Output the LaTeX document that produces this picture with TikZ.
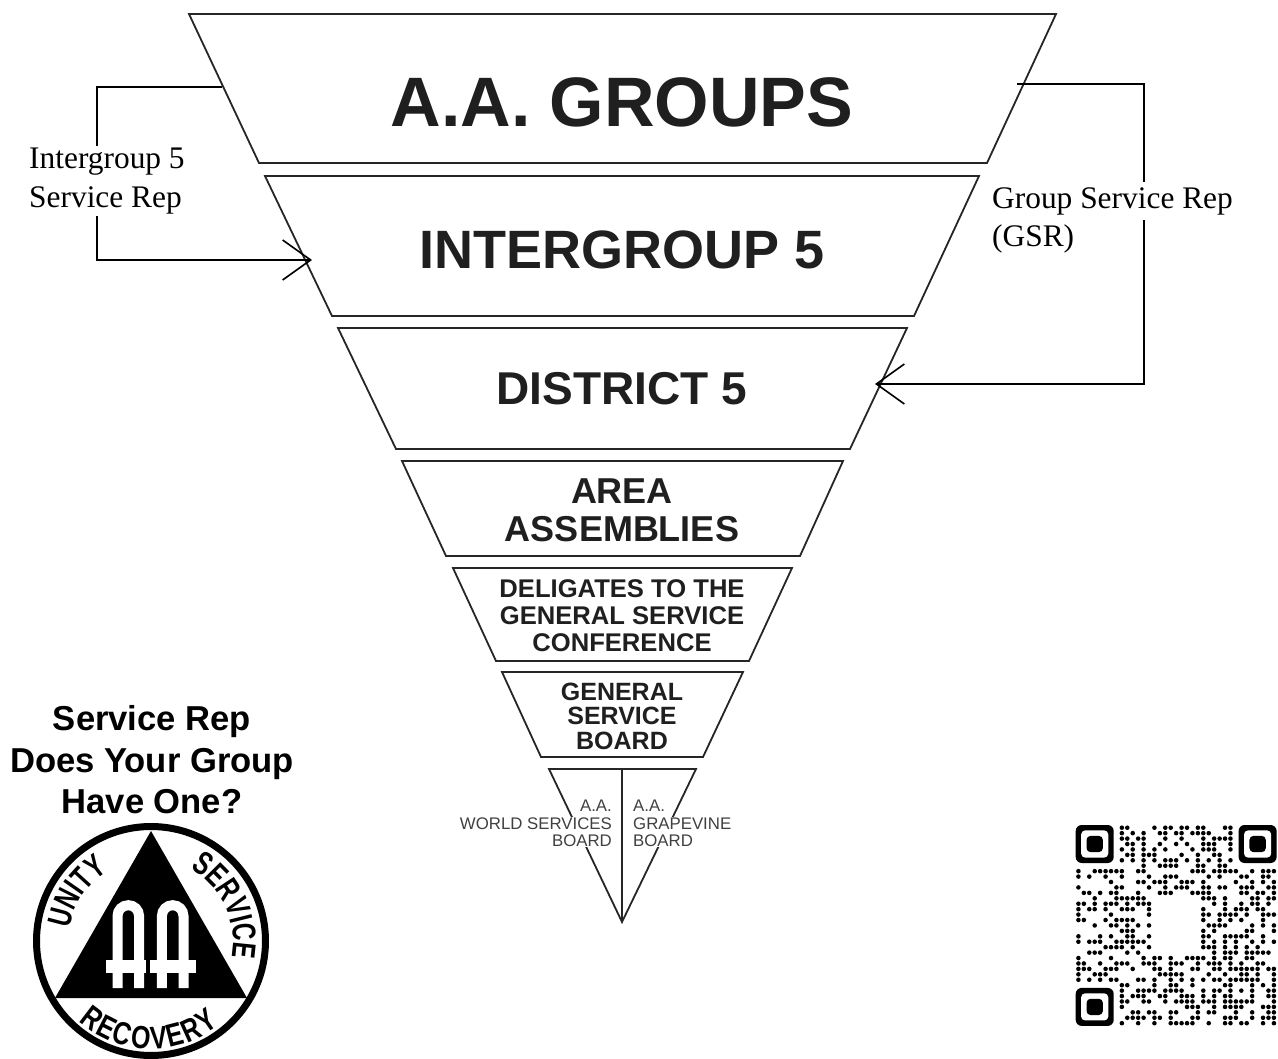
\documentclass[tikz,border=0pt]{standalone}
\usepackage{fontspec}
\setmainfont{Liberation Serif}
\setsansfont{Liberation Sans}
\newfontfamily\logotop[FakeStretch=0.72]{Liberation Sans Bold}
\newfontfamily\logobottom[FakeStretch=0.78]{Liberation Sans Bold}
\usetikzlibrary{arrows.meta}
\usetikzlibrary{decorations.text}

\newcommand{\fz}[2]{\fontsize{#1}{#2}\selectfont}
\newcommand{\topfont}{\logotop\fz{33}{33}}
\newcommand{\bottomfont}{\logobottom\fz{32}{32}}

\begin{document}
\begin{tikzpicture}[
    x=1pt, y=-1pt,
    tier/.style={draw=black!85, line width=1.8pt, line join=miter},
    tiertext/.style={text=black!88, font=\sffamily\bfseries, align=center, inner sep=0pt},
    smalltext/.style={text=black!75, font=\sffamily\fz{16.8}{17}, inner sep=1pt, fill=white},
    rep/.style={font=\fz{31.4}{39}, align=left, fill=white, inner sep=2pt},
    conn/.style={draw=black, line width=2pt},
    bigbarb/.style={-{Straight Barb[length=28pt,width=40pt,line width=1.6pt]}},
]
    \useasboundingbox (0,0) rectangle (1278,1059);

    % tiers
    \draw[tier] (189,14) -- (1056,14) -- (987,163) -- (259,163) -- cycle;
    \draw[tier] (265,176) -- (979,176) -- (914,316) -- (332,316) -- cycle;
    \draw[tier] (338,328) -- (907,328) -- (850,449) -- (396,449) -- cycle;
    \draw[tier] (402,461) -- (843,461) -- (800,556) -- (446,556) -- cycle;
    \draw[tier] (453,568) -- (792,568) -- (749,661) -- (496,661) -- cycle;
    \draw[tier] (502,672) -- (743,672) -- (703,757) -- (541,757) -- cycle;
    \draw[tier] (549,769) -- (696,769) -- (622,922) -- cycle;
    \draw[tier] (622,769) -- (622,922);

    \node[tiertext, font=\sffamily\bfseries\fz{70}{80}] (T1) at (622,102) {A.A. GROUPS};
    \node[tiertext, font=\sffamily\bfseries\fz{54}{60}] (T2) at (622,250) {INTERGROUP 5};
    \node[tiertext, font=\sffamily\bfseries\fz{46}{50}] (T3) at (622,389) {DISTRICT 5};
    \node[tiertext, font=\sffamily\bfseries\fz{36}{38}] (T4) at (622,510) {AREA\\ASSEMBLIES};
    \node[tiertext, font=\sffamily\bfseries\fz{25.6}{27}] (T5) at (622,616) {DELIGATES TO THE\\GENERAL SERVICE\\CONFERENCE};
    \node[tiertext, font=\sffamily\bfseries\fz{25}{24.5}] (T6) at (622,716) {GENERAL\\SERVICE\\BOARD};

    \node[smalltext, fill=none, anchor=east] (W1) at (613,806) {A.A.};
    \node[smalltext, anchor=east, align=right] (W2) at (613,832) {WORLD SERVICES\\BOARD};
    \node[smalltext, fill=none, anchor=west] (G1) at (632,806) {A.A.};
    \node[smalltext, anchor=west, align=left] (G2) at (632,832) {GRAPEVINE\\BOARD};

    % connectors
    \coordinate (grpL) at (222,87);
    \coordinate (itgL) at (312,260);
    \coordinate (isrTurn) at (97,260);
    \coordinate (grpR) at (1017,84);
    \coordinate (dstR) at (875,384);
    \coordinate (gsrTurn) at (1144,384);

    \draw[conn, bigbarb] (grpL) -| (isrTurn) -- (itgL);
    \draw[conn, bigbarb] (grpR) -| (gsrTurn) -- (dstR);

    \node[rep, anchor=west] (isr) at (27,181) {Intergroup 5\\Service Rep};
    \node[rep, anchor=west, inner ysep=5pt] (gsr) at (990,201) {Group Service Rep};
    \node[rep, anchor=west, fill=none] (gsrb) at (990,239) {(GSR)};

    \node[font=\sffamily\bfseries\fz{34.6}{41.5}, align=center, inner sep=0pt] (ask) at (152,760) {Service Rep\\Does Your Group\\Have One?};

    % logo
    \begin{scope}[shift={(151,941)}, y=1pt]
        \draw[line width=7pt] (0,0) circle (114.5);
        \fill (0,110) -- (96,-57) -- (-96,-57) -- cycle;
        \foreach \ax/\lx/\rx in {-22.7/-45/-5, 21.7/-1/45} {
            \draw[white, line width=10pt] (\ax-10.8,-47) -- (\ax-10.8,25) arc (180:0:10.8) -- (\ax+10.8,-47);
            \fill[white] (\lx,-19) rectangle (\rx,-32);
        }
        \path[decorate, decoration={text along path, text align={align=center}, text={|\topfont|UNITY}}]
            (183:82) arc (183:110:82);
        \path[decorate, decoration={text along path, text align={align=center}, text={|\topfont|SERVICE}}]
            (72:82) arc (72:-22:82);
        \path[decorate, decoration={text along path, text align={fit to path}, text={|\bottomfont|RECOVERY}}]
            (228:108) arc (228:309:108);
    \end{scope}

    % qr code
    \begin{scope}[shift={(1075.7,825)}, x=5.43pt, y=-5.43pt]
        \foreach \fx/\fy in {0/0, 30/0, 0/30} {
            \fill[rounded corners=6pt] (\fx,\fy) rectangle ++(7,7);
            \fill[white, rounded corners=4pt] (\fx+1,\fy+1) rectangle ++(5,5);
            \fill[rounded corners=4pt] (\fx+2,\fy+2) rectangle ++(3,3);
        }
        \foreach \r/\cols in {
            0/{8,9,14,16,17,19,20,22,23,27,28},
            1/{8,10,12,15,16,18,19,21,22,23,24,28},
            2/{8,9,11,12,16,19,23,25,26,27,28},
            3/{9,10,12,15,18,20,23,24,25,28},
            4/{8,10,12,14,16,21,23,24,25,28},
            5/{9,10,12,13,14,19,22,25,26},
            6/{8,10,12,14,16,17,18,20,22,24,26,28},
            7/{12,15,16,17,18,22,23,26,27},
            8/{0,3,4,5,6,7,8,11,12,21,22,23,25,26,27,28,29,32,34,35,36},
            9/{0,2,5,8,13,16,17,18,24,26,30,31,34,35},
            10/{6,11,12,14,15,16,19,20,21,23,29,32,34,36},
            11/{0,7,8,13,16,18,19,20,23,24,26,27,30,31,32,35,36},
            12/{1,2,4,6,7,11,15,16,17,21,22,23,24,30,31,33,34,36},
            13/{3,7,8,9,10,11,12,23,24,25,27,32,33,35,36},
            14/{0,1,3,5,6,7,9,11,12,13,25,27,30,32,33,35},
            15/{0,2,3,5,8,9,10,13,23,27,29,30,31,33,34},
            16/{0,6,13,23,24,26,27,28,29,31,34,35,36},
            17/{0,1,5,7,8,9,10,23,26,28,30,34},
            18/{3,6,7,9,11,13,24,25,26,27,32,34,36},
            19/{8,9,10,23,25,31,32,36},
            20/{0,4,6,9,10,13,23,24,27,28,29,30,31,34},
            21/{0,2,3,4,7,8,9,10,11,12,23,25,27,29,32,34,36},
            22/{5,6,7,8,10,13,23,24,25,27,29,31,33},
            23/{2,3,4,9,11,25,27,28,29,31,32,33,34,35},
            24/{0,6,12,14,15,17,20,21,22,23,25,27,28,31,32},
            25/{0,1,4,7,8,9,12,13,14,17,18,19,22,24,25,26,28,30,33,34},
            26/{0,1,2,5,6,7,10,14,15,17,21,22,25,26,28,29,30,31,32,33,35,36},
            27/{0,3,4,5,15,16,17,18,19,24,27,30,31,33,36},
            28/{0,2,4,6,7,11,12,14,17,19,21,23,25,26,28,29,30,31,32,33,36},
            29/{8,9,14,17,18,21,27,28,32,34,36},
            30/{8,11,12,13,14,16,17,18,19,23,25,26,28,30,32,35,36},
            31/{8,10,11,12,15,16,19,20,21,23,25,27,28,32,35,36},
            32/{8,9,12,13,16,18,19,20,21,23,24,25,27,28,29,30,31,32,36},
            33/{8,20,21,22,25,27,28,29,30,34,35,36},
            34/{10,11,13,14,17,18,22,24,25,29,32,35,36},
            35/{9,10,11,12,14,15,17,21,22,27,28,29,32,34,35,36},
            36/{8,11,14,17,18,19,20,21,24,27,28,30,31,34,36}} {
            \foreach \c in \cols {
                \fill (\c+.5,\r+.5) circle (.42);
            }
        }
    \end{scope}
\end{tikzpicture}
\end{document}
